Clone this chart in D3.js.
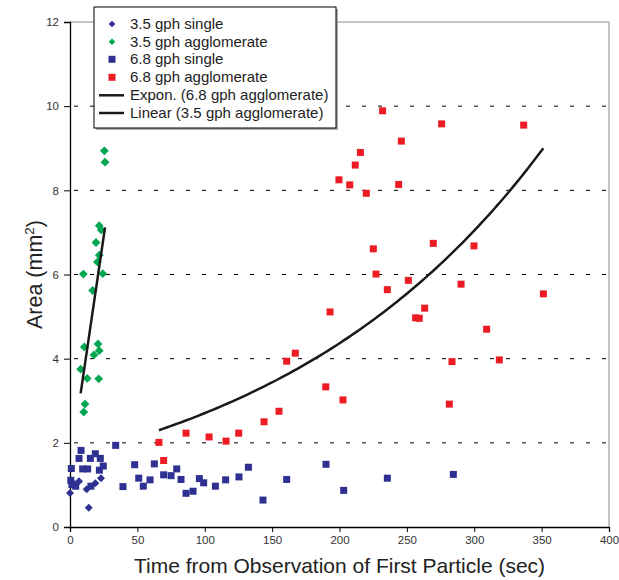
<!DOCTYPE html>
<html>
<head>
<meta charset="utf-8">
<script src="https://cdn.jsdelivr.net/npm/d3@7"></script>
<style>
  body { margin: 0; background: #fff; }
  text { font-family: "Liberation Sans", Arial, sans-serif; }
</style>
</head>
<body>
<svg id="chart" width="619" height="580"></svg>
<script>
// Time from first particle (sec) and particle area (mm^2) per series
const single35Time = [0.0, 1.5, 3.0, 6.7, 12.4, 13.9, 18.8, 23.0];
const single35Area = [0.81, 1.06, 1.02, 1.09, 0.90, 0.46, 1.04, 1.16];

const agglom35Time = [25.5, 26.0, 21.7, 23.2, 19.3, 21.7, 20.3, 9.9, 24.3, 16.8,
                      10.6, 20.8, 21.7, 17.8, 7.9, 12.8, 21.3, 11.1, 10.2];
const agglom35Area = [8.94, 8.67, 7.16, 7.06, 6.76, 6.46, 6.30, 6.01, 6.02, 5.62,
                      4.28, 4.35, 4.19, 4.09, 3.75, 3.53, 3.52, 2.92, 2.73];

const single68Time = [1.0, 0.6, 1.4, 4.2, 6.7, 8.2, 9.4, 13.1, 15.1, 15.5, 18.8, 21.8,
                      22.5, 24.7, 33.9, 39.3, 48.0, 51.0, 54.4, 59.4, 62.6, 69.5, 75.0,
                      79.2, 82.4, 86.1, 91.3, 96.0, 99.2, 107.9, 115.5, 125.4, 132.4,
                      143.2, 160.8, 190.0, 203.1, 235.5, 284.5];
const single68Area = [1.39, 1.11, 1.01, 0.97, 1.63, 1.82, 1.38, 1.38, 1.63, 0.97, 1.74, 1.35,
                      1.63, 1.45, 1.94, 0.96, 1.48, 1.16, 0.97, 1.12, 1.50, 1.24, 1.22,
                      1.38, 1.13, 0.80, 0.85, 1.15, 1.05, 0.97, 1.12, 1.19, 1.42,
                      0.64, 1.13, 1.49, 0.87, 1.16, 1.25];

const agglom68Time = [66.0, 69.5, 86.1, 103.2, 115.8, 125.2, 144.0, 155.1, 160.8, 167.2,
                      232.0, 275.8, 336.7, 245.9, 215.5, 211.7, 199.6, 207.6, 219.9, 243.9,
                      225.1, 269.6, 299.8, 227.1, 251.1, 235.5, 290.2, 351.3, 193.0, 263.2,
                      256.5, 259.2, 309.2, 283.5, 318.6, 189.8, 202.6, 281.5];
const agglom68Area = [2.01, 1.58, 2.23, 2.14, 2.04, 2.23, 2.50, 2.75, 3.94, 4.13,
                      9.89, 9.58, 9.55, 9.17, 8.90, 8.60, 8.25, 8.13, 7.93, 8.14,
                      6.61, 6.74, 6.68, 6.01, 5.86, 5.64, 5.77, 5.54, 5.11, 5.20,
                      4.97, 4.96, 4.70, 3.93, 3.97, 3.33, 3.02, 2.92];

const xTicks = [0, 50, 100, 150, 200, 250, 300, 350, 400];
const yTicks = [0, 2, 4, 6, 8, 10, 12];

const legendLabels = ["3.5 gph single", "3.5 gph agglomerate", "6.8 gph single",
                      "6.8 gph agglomerate", "Expon. (6.8 gph agglomerate)",
                      "Linear (3.5 gph agglomerate)"];

const BLUE = "#2e3192", GREEN = "#00a651", RED = "#ed1c24", INK = "#1a1a1a";

const svg = d3.select("#chart");
const x = d3.scaleLinear().domain([0, 400]).range([70, 609]);
const y = d3.scaleLinear().domain([0, 12]).range([527, 22]);

const zip = (ts, as) => ts.map((t, i) => ({ t, a: as[i] }));

// Dashed horizontal gridlines
svg.append("g").selectAll("line")
  .data(yTicks.filter(v => v > 0 && v < 12))
  .join("line")
  .attr("x1", x(0)).attr("x2", x(400))
  .attr("y1", d => y(d)).attr("y2", d => y(d))
  .attr("stroke", "#000").attr("stroke-width", 1)
  .attr("stroke-dasharray", "4,12")
  .attr("stroke-dashoffset", -4);

// Plot frame: grey top and right edges
svg.append("line").attr("x1", x(0)).attr("x2", x(400)).attr("y1", y(12)).attr("y2", y(12))
  .attr("stroke", "#8a8a8a").attr("stroke-width", 1);
svg.append("line").attr("x1", x(400)).attr("x2", x(400)).attr("y1", y(12)).attr("y2", y(0))
  .attr("stroke", "#8a8a8a").attr("stroke-width", 1);

// Axes
const xAxis = svg.append("g").attr("transform", `translate(0,${y(0)})`)
  .call(d3.axisBottom(x).tickValues(xTicks).tickSize(5).tickPadding(4));
const yAxis = svg.append("g").attr("transform", `translate(${x(0)},0)`)
  .call(d3.axisLeft(y).tickValues(yTicks).tickSize(6).tickPadding(5));
[xAxis, yAxis].forEach(g => {
  g.select(".domain").attr("stroke", "#000").attr("stroke-width", 1.3);
  g.selectAll(".tick line").attr("stroke", "#000");
  g.selectAll(".tick text").attr("fill", "#333").attr("font-size", 11.5)
    .attr("font-family", "'Liberation Sans', Arial, sans-serif");
});

// Marker shapes
const diamond = r => `M0,${-r}L${r},0L0,${r}L${-r},0Z`;

function diamonds(data, color, r) {
  svg.append("g").selectAll("path").data(data).join("path")
    .attr("d", diamond(r))
    .attr("transform", d => `translate(${x(d.t)},${y(d.a)})`)
    .attr("fill", color);
}
function squares(data, color, s) {
  svg.append("g").selectAll("rect").data(data).join("rect")
    .attr("x", d => x(d.t) - s / 2).attr("y", d => y(d.a) - s / 2)
    .attr("width", s).attr("height", s)
    .attr("fill", color);
}

squares(zip(single68Time, single68Area), BLUE, 7);
diamonds(zip(single35Time, single35Area), BLUE, 4);
squares(zip(agglom68Time, agglom68Area), RED, 7);
diamonds(zip(agglom35Time, agglom35Area), GREEN, 4.4);

// Least-squares trendlines
function linFit(xs, ys) {
  const mx = d3.mean(xs), my = d3.mean(ys);
  let sxy = 0, sxx = 0;
  xs.forEach((v, i) => { sxy += (v - mx) * (ys[i] - my); sxx += (v - mx) ** 2; });
  const b = sxy / sxx;
  return { b, a: my - b * mx };
}

const lin = linFit(agglom35Time, agglom35Area);
const linExt = d3.extent(agglom35Time);
const line = d3.line().x(d => x(d.t)).y(d => y(d.a));

svg.append("path")
  .attr("d", line(linExt.map(t => ({ t, a: lin.a + lin.b * t }))))
  .attr("fill", "none").attr("stroke", INK).attr("stroke-width", 2.5);

const ex = linFit(agglom68Time, agglom68Area.map(Math.log));
const exExt = d3.extent(agglom68Time);
const exPts = d3.range(0, 101).map(i => {
  const t = exExt[0] + (exExt[1] - exExt[0]) * i / 100;
  return { t, a: Math.exp(ex.a + ex.b * t) };
});
svg.append("path")
  .attr("d", line(exPts))
  .attr("fill", "none").attr("stroke", INK).attr("stroke-width", 2.5);

// Axis titles
svg.append("text")
  .attr("x", (x(0) + x(400)) / 2).attr("y", 573)
  .attr("text-anchor", "middle").attr("font-size", 21).attr("fill", "#222")
  .text("Time from Observation of First Particle (sec)");

const yt = svg.append("text")
  .attr("transform", `translate(42,${y(6)}) rotate(-90)`)
  .attr("text-anchor", "middle").attr("font-size", 21.5).attr("fill", "#222");
yt.append("tspan").text("Area (mm");
yt.append("tspan").attr("font-size", 13.5).attr("dy", -8).text("2");
yt.append("tspan").attr("dy", 8).text(")");

// Legend
const lg = svg.append("g");
lg.append("rect").attr("x", 96).attr("y", 9).attr("width", 242).attr("height", 121)
  .attr("fill", "#aaa");
lg.append("rect").attr("x", 94).attr("y", 7).attr("width", 242).attr("height", 121)
  .attr("fill", "#fff").attr("stroke", "#000").attr("stroke-width", 1);

const rowY = [24, 41.7, 59.3, 77.3, 95.3, 113];
const sym = lg.selectAll("g.item").data(legendLabels).join("g")
  .attr("class", "item")
  .attr("transform", (d, i) => `translate(0,${rowY[i]})`);
sym.append("text").attr("x", 130).attr("y", 5).attr("font-size", 15).attr("fill", "#222")
  .text(d => d);

sym.filter((d, i) => i === 0).append("path").attr("d", diamond(3.3))
  .attr("transform", "translate(112,0)").attr("fill", BLUE);
sym.filter((d, i) => i === 1).append("path").attr("d", diamond(3.3))
  .attr("transform", "translate(112,0)").attr("fill", GREEN);
sym.filter((d, i) => i === 2).append("rect").attr("x", 108.5).attr("y", -3.5)
  .attr("width", 7).attr("height", 7).attr("fill", BLUE);
sym.filter((d, i) => i === 3).append("rect").attr("x", 108.5).attr("y", -3.5)
  .attr("width", 7).attr("height", 7).attr("fill", RED);
sym.filter((d, i) => i >= 4).append("line")
  .attr("x1", 99).attr("x2", 124).attr("y1", 0).attr("y2", 0)
  .attr("stroke", INK).attr("stroke-width", 2.5);
</script>
</body>
</html>
